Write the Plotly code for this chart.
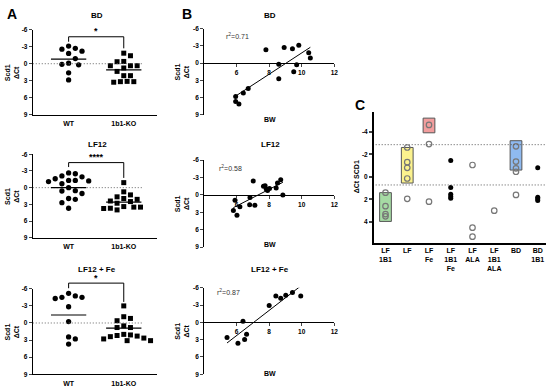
import numpy as np
import plotly.graph_objects as go

W, H = 550, 391
FONT = "Liberation Sans, Arial, sans-serif"

# ---------------- Panel A data ----------------
A_titles = ["BD", "LF12", "LF12 + Fe"]
A_groups = ["WT", "1b1-KO"]
A_wt = [
    [-3.1, -2.7, -2.55, -1.8, -2.2, -0.9, 0.1, 0.2, -0.1, 1.6, 2.85],
    [-2.65, -2.5, -2.1, -1.95, -1.6, -1.3, -1.1, -1.2, -1.3, -0.7, 0.0, 0.6, 0.55, 1.05, 1.95, 2.1, 2.7, 3.7],
    [-4.5, -4.5, -5.2, -4.3, -4.75, -2.85, -0.25, 2.45, 2.8, 3.7],
]
A_ko = [
    [-1.85, -1.4, 0.35, 0.35, -0.35, -0.4, 0.35, 0.75, 1.35, 2.1, 2.1, 3.25, 3.1, 3.15, 3.15],
    [-0.9, 0.75, 1.3, 1.65, 2.1, 1.95, 2.5, 2.4, 3.5, 4.0, 3.5, 3.75, 3.7, 3.4, 2.8],
    [-3.0, -1.1, -0.8, -0.4, 0.5, 0.8, 0.8, 2.2, 2.1, 2.3, 2.0, 2.4, 3.1, 2.8, 2.65, 3.1],
]
A_wt_mean = [-0.8, 0.0, -1.4]
A_ko_mean = [1.1, 2.6, 0.9]
A_sig = ["*", "****", "*"]
# bracket: top level, WT leg end, KO leg end, star level (ΔCt units)
A_br_top = [-4.73, -4.5, -7.0]
A_br_wt = [-3.86, -3.7, -6.1]
A_br_ko = [-2.7, -1.75, -3.7]
A_star = [-5.7, -5.5, -7.9]

# ---------------- Panel B data ----------------
B_titles = ["BD", "LF12", "LF12 + Fe"]
B_r2 = ["0.71", "0.58", "0.87"]
B_bw = [
    [5.94, 5.94, 6.14, 6.41, 6.71, 7.8, 8.59, 8.59, 8.92, 9.43, 9.51, 9.69, 9.82, 10.43, 10.53],
    [5.8, 5.9, 6.02, 6.2, 6.82, 6.8, 7.02, 7.12, 7.65, 7.75, 7.82, 7.9, 8.02, 8.43, 8.51, 8.71, 8.84],
    [5.41, 6.08, 6.39, 6.49, 6.61, 8.0, 8.41, 8.71, 9.02, 9.43, 9.94],
]
B_dct = [
    [5.8, 6.65, 7.1, 5.2, 4.4, -2.3, 0.2, 2.7, -2.7, -2.5, 1.5, 0.3, -3.1, -1.8, -0.9],
    [2.7, 0.9, 3.5, 2.05, 0.45, 1.7, -2.4, 1.8, -1.5, -1.6, -1.0, -0.75, -1.1, -1.2, -2.05, -2.6, 0.0],
    [2.6, 3.6, -0.2, 2.95, 2.05, -2.95, -4.6, -4.2, -4.7, -5.2, -4.6],
]
B_xticks = [6, 8, 10, 12]

AB_yticks = [-6, -3, 0, 3, 6, 9]
AB_yticktext = ["-6", "-3", "0", "3", "6", "9"]

# ---------------- Panel C data ----------------
C_cats = ["LF<br>1B1", "LF", "LF<br>Fe", "LF<br>1B1<br>Fe", "LF<br>ALA", "LF<br>1B1<br>ALA", "BD", "BD<br>1B1"]
C_open_cat = [0, 0, 0, 0, 1, 1, 1, 1, 1, 2, 2, 2, 4, 4, 4, 5, 6, 6, 6, 6, 6]
C_open_val = [1.4, 2.6, 3.3, 3.5, -2.6, -1.3, -0.8, 0.15, 1.95, -4.6, -2.9, 2.2, -1.05, 4.5, 5.3, 3.0,
              -2.7, -1.35, -0.75, -0.45, 1.6]
C_fill_cat = [3, 3, 3, 3, 3, 7, 7, 7, 7]
C_fill_val = [-1.45, 0.95, 1.55, 1.75, 1.9, -0.8, 1.8, 1.95, 2.1]
C_box_cat = [0, 1, 2, 6]
C_box_lo = [3.95, 0.55, -3.9, -0.6]
C_box_hi = [1.4, -2.6, -5.2, -3.2]
C_box_col = ["#a6dba4", "#fbf28e", "#f29d9d", "#8fbaf0"]
C_ref = [-2.85, 0.72]
C_yticks = [-4, -2, 0, 2, 4]
C_yticktext = ["-4", "-2", "0", "2", "4"]


def px_x(p):
    return p / W


def px_y(p):
    return 1 - p / H


def dom_ab(v):
    # domain fraction for reversed range [9, -6]
    return (9 - v) / 15.0


def swarm(vals, ypx, xpx, diam=6.4, step=3.4):
    vals = np.asarray(vals, float)
    order = np.argsort(vals, kind="stable")
    placed = []
    offs = np.zeros(len(vals))
    cands = [0]
    for m in range(1, 30):
        cands += [m, -m]
    for i in order:
        y = vals[i] * ypx
        for c in cands:
            x = c * step
            if all((x - px) ** 2 + (y - py) ** 2 >= diam ** 2 for px, py in placed):
                placed.append((x, y))
                offs[i] = x / xpx
                break
    return offs


fig = go.Figure()
shapes = []
annotations = []
layout = {}

bold = dict(family=FONT, size=6.5, color="black", weight="bold")
DOT = "1px,2px"

A_xdom = [px_x(33), px_x(158)]
A_ydom_px = [(26, 113), (153, 238), (290, 377)]
B_xdom = [px_x(205.6), px_x(336.7)]
B_ydom_px = [(25, 113), (159, 247.5), (289, 377)]
A_title_y = [12, 143, 270]
B_bw_y = [118, 245, 376]
B_r2_pos = [(226, 33), (219, 167), (217, 293)]

for k in range(3):
    ax = "" if k == 0 else str(k + 1)
    xa, ya = "x" + ax, "y" + ax
    top, bot = A_ydom_px[k]
    ydom = [px_y(bot), px_y(top)]
    layout["xaxis" + ax] = dict(domain=A_xdom, range=[-0.65, 1.6], anchor=ya, showgrid=False, zeroline=False,
                                showline=True, linecolor="black", linewidth=1, tickvals=[0, 1],
                                ticktext=A_groups, ticks="", tickfont=dict(family=FONT, size=7, color="black", weight="bold"),
                                ticklabelstandoff=2)
    layout["yaxis" + ax] = dict(domain=ydom, range=[9, -6], anchor=xa, showgrid=False, zeroline=False,
                                showline=True, linecolor="black", linewidth=1, tickvals=AB_yticks,
                                ticktext=AB_yticktext, ticks="outside", ticklen=3, tickwidth=1,
                                tickfont=bold)
    ypx = (bot - top) / 15.0
    wt = A_wt[k]
    ko = A_ko[k]
    fig.add_trace(go.Scatter(x=0 + swarm(wt, ypx, 56), y=wt, xaxis=xa, yaxis=ya, mode="markers",
                             marker=dict(symbol="circle", size=5.3, color="black"), cliponaxis=False,
                             showlegend=False))
    fig.add_trace(go.Scatter(x=1 + swarm(ko, ypx, 56), y=ko, xaxis=xa, yaxis=ya, mode="markers",
                             marker=dict(symbol="square", size=5.0, color="black"), cliponaxis=False,
                             showlegend=False))
    # zero dotted line
    shapes.append(dict(type="line", xref=xa, yref=ya, x0=-0.65, x1=1.33, y0=0, y1=0,
                       line=dict(color="#666", width=1, dash=DOT)))
    for i, m in enumerate([A_wt_mean[k], A_ko_mean[k]]):
        shapes.append(dict(type="line", xref=xa, yref=ya, x0=i - 0.32, x1=i + 0.32, y0=m, y1=m,
                           line=dict(color="black", width=1.2)))
    yd = ya + " domain"
    shapes.append(dict(type="line", xref=xa, yref=yd, x0=0, x1=1, y0=dom_ab(A_br_top[k]), y1=dom_ab(A_br_top[k]),
                       line=dict(color="black", width=1)))
    shapes.append(dict(type="line", xref=xa, yref=yd, x0=0, x1=0, y0=dom_ab(A_br_top[k]), y1=dom_ab(A_br_wt[k]),
                       line=dict(color="black", width=1)))
    shapes.append(dict(type="line", xref=xa, yref=yd, x0=1, x1=1, y0=dom_ab(A_br_top[k]), y1=dom_ab(A_br_ko[k]),
                       line=dict(color="black", width=1)))
    annotations.append(dict(text=A_sig[k], xref=xa, yref=yd, x=0.5, y=dom_ab(A_star[k]), showarrow=False,
                            font=dict(family=FONT, size=9, color="black", weight="bold"),
                            xanchor="center", yanchor="middle"))
    annotations.append(dict(text=A_titles[k], xref="paper", yref="paper", x=px_x(98), y=px_y(A_title_y[k]),
                            showarrow=False, font=dict(family=FONT, size=8, color="black", weight="bold"),
                            xanchor="center", yanchor="middle"))
    annotations.append(dict(text="Scd1<br>ΔCt", xref="paper", yref="paper", x=px_x(12), y=px_y((top + bot) / 2),
                            textangle=-90, showarrow=False,
                            font=dict(family=FONT, size=7, color="black", weight="bold"),
                            xanchor="center", yanchor="middle"))

    # ---- Panel B ----
    bx = str(k + 4)
    xb, yb = "x" + bx, "y" + bx
    top, bot = B_ydom_px[k]
    ydomb = [px_y(bot), px_y(top)]
    zero_pos = ydomb[0] + dom_ab(0) * (ydomb[1] - ydomb[0])
    layout["xaxis" + bx] = dict(domain=B_xdom, range=[4, 12], anchor="free", position=zero_pos, showgrid=False,
                                zeroline=False, showline=True, linecolor="black", linewidth=1, tickvals=B_xticks,
                                ticks="outside", ticklen=3, tickwidth=1, tickfont=bold)
    layout["yaxis" + bx] = dict(domain=ydomb, range=[9, -6], anchor=xb, showgrid=False, zeroline=False,
                                showline=True, linecolor="black", linewidth=1, tickvals=AB_yticks,
                                ticktext=AB_yticktext, ticks="outside", ticklen=3, tickwidth=1, tickfont=bold)
    bw = np.array(B_bw[k])
    dv = np.array(B_dct[k])
    slope, icpt = np.polyfit(bw, dv, 1)
    xs = np.array([bw.min(), bw.max()])
    fig.add_trace(go.Scatter(x=xs, y=slope * xs + icpt, xaxis=xb, yaxis=yb, mode="lines",
                             line=dict(color="black", width=1), showlegend=False))
    fig.add_trace(go.Scatter(x=bw, y=dv, xaxis=xb, yaxis=yb, mode="markers",
                             marker=dict(symbol="circle", size=5.0, color="black"), cliponaxis=False,
                             showlegend=False))
    annotations.append(dict(text=B_titles[k], xref="paper", yref="paper", x=px_x(272), y=px_y(A_title_y[k]),
                            showarrow=False, font=dict(family=FONT, size=8, color="black", weight="bold"),
                            xanchor="center", yanchor="middle"))
    annotations.append(dict(text="BW", xref="paper", yref="paper", x=px_x(272), y=px_y(B_bw_y[k]),
                            showarrow=False, font=dict(family=FONT, size=7, color="black", weight="bold"),
                            xanchor="center", yanchor="middle"))
    annotations.append(dict(text="r<sup>2</sup>=" + B_r2[k], xref="paper", yref="paper",
                            x=px_x(B_r2_pos[k][0]), y=px_y(B_r2_pos[k][1]), showarrow=False,
                            font=dict(family=FONT, size=7, color="#333"), xanchor="left", yanchor="middle"))
    annotations.append(dict(text="Scd1<br>ΔCt", xref="paper", yref="paper", x=px_x(183), y=px_y((top + bot) / 2),
                            textangle=-90, showarrow=False,
                            font=dict(family=FONT, size=7, color="black", weight="bold"),
                            xanchor="center", yanchor="middle"))

# ---------------- Panel C ----------------
layout["xaxis7"] = dict(domain=[px_x(376.7), 1.0], range=[-0.53, 7.38], anchor="y7", showgrid=False, zeroline=False,
                        showline=True, linecolor="black", linewidth=2, tickvals=list(range(8)), ticktext=C_cats,
                        ticks="", tickfont=dict(family=FONT, size=7, color="black", weight="bold"))
layout["yaxis7"] = dict(domain=[px_y(243), px_y(110)], range=[5.83, -5.74], anchor="x7", showgrid=False,
                        zeroline=False, showline=True, linecolor="black", linewidth=2, tickvals=C_yticks,
                        ticktext=C_yticktext, ticks="outside", ticklen=3, tickwidth=1.5, tickfont=bold)
for c, lo, hi, col in zip(C_box_cat, C_box_lo, C_box_hi, C_box_col):
    shapes.append(dict(type="rect", xref="x7", yref="y7", x0=c - 0.27, x1=c + 0.27, y0=lo, y1=hi,
                       fillcolor=col, line=dict(color="#555", width=1), layer="below"))
for r in C_ref:
    shapes.append(dict(type="line", xref="x7 domain", yref="y7", x0=0.01, x1=1, y0=r, y1=r,
                       line=dict(color="#555", width=1, dash=DOT)))
fig.add_trace(go.Scatter(x=C_open_cat, y=C_open_val, xaxis="x7", yaxis="y7", mode="markers",
                         marker=dict(symbol="circle-open", size=5.5, color="#777", line=dict(width=1.2)),
                         cliponaxis=False, showlegend=False))
fig.add_trace(go.Scatter(x=C_fill_cat, y=C_fill_val, xaxis="x7", yaxis="y7", mode="markers",
                         marker=dict(symbol="circle", size=5, color="black"),
                         cliponaxis=False, showlegend=False))
annotations.append(dict(text="ΔCt SCD1", xref="paper", yref="paper", x=px_x(359), y=px_y(176),
                        textangle=-90, showarrow=False,
                        font=dict(family=FONT, size=7, color="black", weight="bold"),
                        xanchor="center", yanchor="middle"))

for lab, (lx, ly) in zip(["A", "B", "C"], [(12, 10), (188, 10), (363, 103)]):
    annotations.append(dict(text=lab, xref="paper", yref="paper", x=px_x(lx), y=px_y(ly), showarrow=False,
                            font=dict(family=FONT, size=14, color="black", weight="bold"),
                            xanchor="center", yanchor="middle"))

fig.update_layout(width=W, height=H, margin=dict(l=0, r=0, t=0, b=0), plot_bgcolor="white",
                  paper_bgcolor="white", showlegend=False, shapes=shapes, annotations=annotations, **layout)
fig.write_html("out.html", config={"displayModeBar": False},
               post_script="document.body.style.margin='0';document.body.style.overflow='hidden';")
